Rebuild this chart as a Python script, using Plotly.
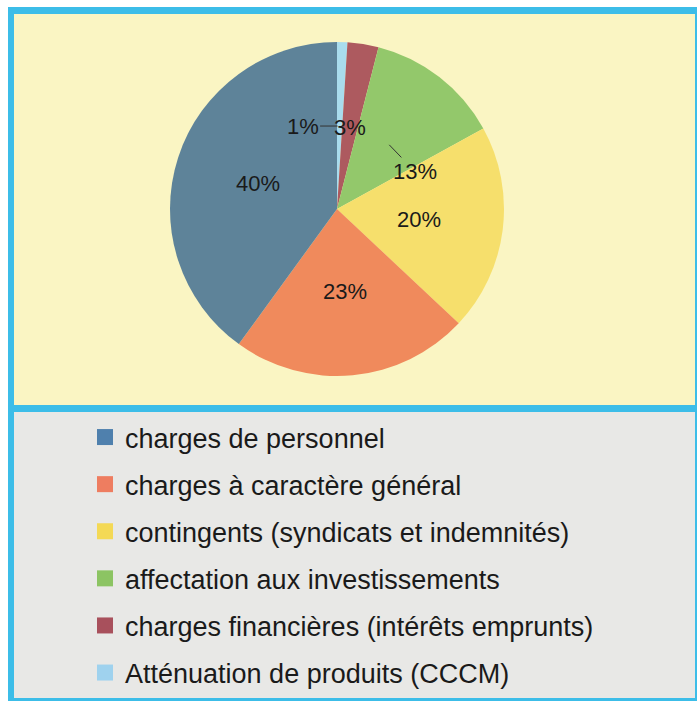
import math
import plotly.graph_objects as go

# ---- data ----
categories = [
    "charges de personnel",
    "charges à caractère général",
    "contingents (syndicats et indemnités)",
    "affectation aux investissements",
    "charges financières (intérêts emprunts)",
    "Atténuation de produits (CCCM)",
]
values = [40, 23, 20, 13, 3, 1]
slice_colors = ["#5e8399", "#f08a5c", "#f6df6c", "#93c86b", "#ad5a5f", "#a9dced"]
legend_colors = ["#4f80ad", "#ee7d60", "#f4d955", "#8cc463", "#a8505c", "#9fd2ee"]

W, H = 699, 702


def fx(p):
    return p / W


def fy(p):
    return 1 - p / H


# pie geometry (window pixels)
CX, CY, R = 337, 209, 167
dom_x = [fx(CX - R), fx(CX + R)]
dom_y = [fy(CY + R), fy(CY - R)]

fig = go.Figure()

# slices run counterclockwise from 12 o'clock in category order;
# drawn as the reversed order running clockwise
fig.add_trace(go.Pie(
    labels=categories[::-1],
    values=values[::-1],
    sort=False,
    direction="clockwise",
    rotation=0,
    marker=dict(colors=slice_colors[::-1], line=dict(width=0)),
    textinfo="none",
    hoverinfo="label+percent",
    showlegend=False,
    domain=dict(x=dom_x, y=dom_y),
))

# legend entries
for name, col in zip(categories, legend_colors):
    fig.add_trace(go.Scatter(
        x=[None], y=[None], mode="markers",
        marker=dict(symbol="square", size=18, color=col),
        name=name, legendgroup=name, showlegend=True,
    ))

# percentage labels computed from data (counterclockwise from 12 o'clock)
total = sum(values)
label_r = 83
offsets = {5: (-37, 0), 3: (27, 28)}  # displaced labels with leader lines
FONT = "Liberation Sans, Arial, sans-serif"
annotations = []
cum = 0.0
for i, v in enumerate(values):
    mid = 90 + (cum + v / 2) / total * 360
    cum += v
    px = CX + label_r * math.cos(math.radians(mid))
    py = CY - label_r * math.sin(math.radians(mid))
    txt = f"{round(v / total * 100)}%"
    if i in offsets:
        ox, oy = offsets[i]
        annotations.append(dict(
            x=fx(px), y=fy(py), xref="paper", yref="paper",
            text=txt, showarrow=True, arrowhead=0, arrowwidth=1,
            arrowcolor="#333333", ax=ox, ay=oy, standoff=2,
            font=dict(size=22, color="#1a1a1a", family=FONT),
        ))
    else:
        annotations.append(dict(
            x=fx(px), y=fy(py), xref="paper", yref="paper",
            text=txt, showarrow=False, xanchor="center", yanchor="middle",
            font=dict(size=22, color="#1a1a1a", family=FONT),
        ))

shapes = [
    dict(type="rect", xref="paper", yref="paper", x0=fx(8), x1=fx(697), y0=fy(701), y1=fy(7),
         fillcolor="#3cbde8", line=dict(width=0), layer="below"),
    dict(type="rect", xref="paper", yref="paper", x0=fx(14), x1=fx(695), y0=fy(405), y1=fy(14),
         fillcolor="#faf5c3", line=dict(width=0), layer="below"),
    dict(type="rect", xref="paper", yref="paper", x0=fx(14), x1=fx(695), y0=fy(698), y1=fy(412),
         fillcolor="#e8e8e6", line=dict(width=0), layer="below"),
]

fig.update_layout(
    width=W, height=H,
    margin=dict(l=0, r=0, t=0, b=0),
    paper_bgcolor="white",
    plot_bgcolor="rgba(0,0,0,0)",
    xaxis=dict(visible=False),
    yaxis=dict(visible=False),
    shapes=shapes,
    annotations=annotations,
    font=dict(family=FONT, color="#1a1a1a"),
    legend=dict(
        x=fx(85), y=fy(413), xanchor="left", yanchor="top",
        bgcolor="rgba(0,0,0,0)",
        font=dict(size=27, color="#1a1a1a", family=FONT),
        traceorder="grouped", tracegroupgap=9,
    ),
)

fig.write_html(
    "out.html",
    config={"displayModeBar": False},
    post_script="document.body.style.margin='0'; document.body.style.overflow='hidden';",
)
